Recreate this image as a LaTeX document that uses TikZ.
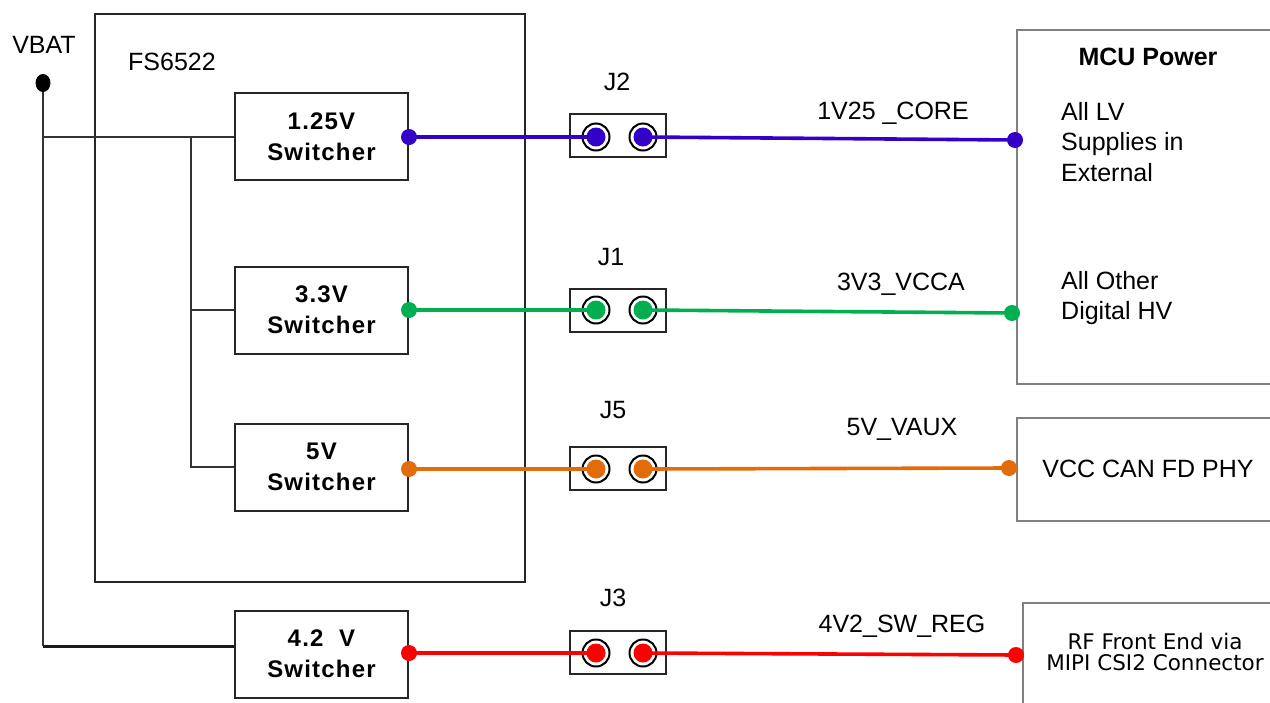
\documentclass[tikz,border=0pt]{standalone}
\usepackage{fontspec}
\setmainfont{Liberation Sans}
\newfontfamily\vfont{DejaVu Sans}
\usetikzlibrary{calc,shapes.geometric}
\definecolor{cpurple}{HTML}{3300C8}
\definecolor{cgreen}{HTML}{00B050}
\definecolor{corange}{HTML}{E36C0A}
\definecolor{cred}{HTML}{FF0000}
\definecolor{cgray}{HTML}{808080}
\begin{document}
\begin{tikzpicture}[x=1pt,y=-1pt,
  txt/.style={font=\fontsize{25}{29}\selectfont, inner sep=0pt},
  swbox/.style={draw=black!85, line width=2pt, minimum width=173pt, minimum height=87pt, inner sep=0pt, align=center,
     font=\fontsize{24}{31}\selectfont\bfseries\addfontfeature{LetterSpace=5}},
  jbox/.style={draw=black!85, line width=2pt, minimum width=96pt, minimum height=43pt, inner sep=0pt},
  pin/.style={circle, draw=black, line width=2pt, fill=white, minimum size=27pt, inner sep=0pt},
  pinfill/.style={circle, minimum size=19pt, inner sep=0pt},
  bus/.style={line width=2.2pt, draw=black!80},
  wire/.style={line width=3.6pt},
  dotc/.style={circle, inner sep=0pt, minimum size=16pt},
  rbox/.style={draw=cgray, line width=1.6pt}
]
\useasboundingbox (0,0) rectangle (1270,702);

% FS6522 block
\draw[line width=2pt, draw=black!85] (95,14) rectangle (525,582);
\node[txt] (fslab) at (172,62) {FS6522};

% VBAT
\node[txt] (vbatlab) at (44,45) {VBAT};
\node[ellipse, fill=black, minimum width=15pt, minimum height=18pt, inner sep=0pt] (vbat) at (43,83) {};
\coordinate (vj) at (43,137);
\coordinate (vb) at (43,646);
\coordinate (bt) at (191,137);

% switchers
\node[swbox] (s1) at (321.5,136.5) {1.25V\\Switcher};
\node[swbox] (s2) at (321.5,310) {3.3V\\Switcher};
\node[swbox] (s3) at (321.5,467) {5V\\Switcher};
\node[swbox] (s4) at (321.5,654) {4.2\ \ V\\Switcher};

% bus wiring
\draw[bus] (vbat.south) -- (vj);
\draw[bus] (vj) -- (vb);
\draw[line width=3pt, draw=black!90] (vb) -- (vb -| s4.west);
\draw[bus] (vj) -- (vj -| s1.west);
\draw[bus] (bt) |- (s3.west);
\draw[bus] (bt |- s2.west) -- (s2.west);

% jumpers
\node[jbox] (j2) at (618,135.5) {};
\node[jbox] (j1) at (618,310) {};
\node[jbox] (j5) at (618,468.5) {};
\node[jbox] (j3) at (618,652) {};
\node[txt] (j2l) at (617,82) {J2};
\node[txt] (j1l) at (611,257) {J1};
\node[txt] (j5l) at (613,410) {J5};
\node[txt] (j3l) at (613,598) {J3};
\foreach \j/\y in {j2/137,j1/310,j5/469,j3/653}{
  \node[pin] (\j a) at (596,\y) {};
  \node[pin] (\j b) at (643,\y) {};
}

% right boxes
\draw[rbox] (1280,30) -- (1017,30) -- (1017,384) -- (1280,384);
\draw[rbox] (1280,418) -- (1017,418) -- (1017,521) -- (1280,521);
\draw[rbox] (1280,603) -- (1023,603) -- (1023,710);
\node[txt, font=\fontsize{25}{29}\selectfont\bfseries] (mcu) at (1148,57) {MCU Power};
\node[txt, anchor=north west, align=left, font=\fontsize{25}{30.5}\selectfont] (lv) at (1061,102) {All LV\\Supplies in\\External};
\node[txt, anchor=north west, align=left, font=\fontsize{25}{30.5}\selectfont] (hv) at (1061,271) {All Other\\Digital HV};
\node[txt] (can) at (1148,469) {VCC CAN FD PHY};
\node[inner sep=0pt, align=center, font=\vfont\fontsize{21.5}{21.5}\selectfont] (rf) at (1155,652) {RF Front End via\\MIPI CSI2 Connector};

% destinations
\coordinate (d1) at (1015,140);
\coordinate (d2) at (1012,313);
\coordinate (d3) at (1009,468);
\coordinate (d4) at (1016,655);

% wire labels
\node[txt] (w1) at (893,113) {1V25 \_CORE};
\node[txt] (w2) at (901,284) {3V3\_VCCA};
\node[txt] (w3) at (902,429) {5V\_VAUX};
\node[txt] (w4) at (902,626) {4V2\_SW\_REG};

% colored wires
\foreach \s/\j/\d/\c in {s1/j2/d1/cpurple, s2/j1/d2/cgreen, s3/j5/d3/corange, s4/j3/d4/cred}{
  \draw[wire, draw=\c] (\s.east |- \j a) -- (\j a.center);
  \draw[wire, draw=\c] (\j b.center) -- (\d);
  \node[dotc, fill=\c] at (\s.east |- \j a) {};
  \node[dotc, fill=\c] at (\d) {};
  \node[pinfill, fill=\c] at (\j a) {};
  \node[pinfill, fill=\c] at (\j b) {};
}
\end{tikzpicture}
\end{document}
